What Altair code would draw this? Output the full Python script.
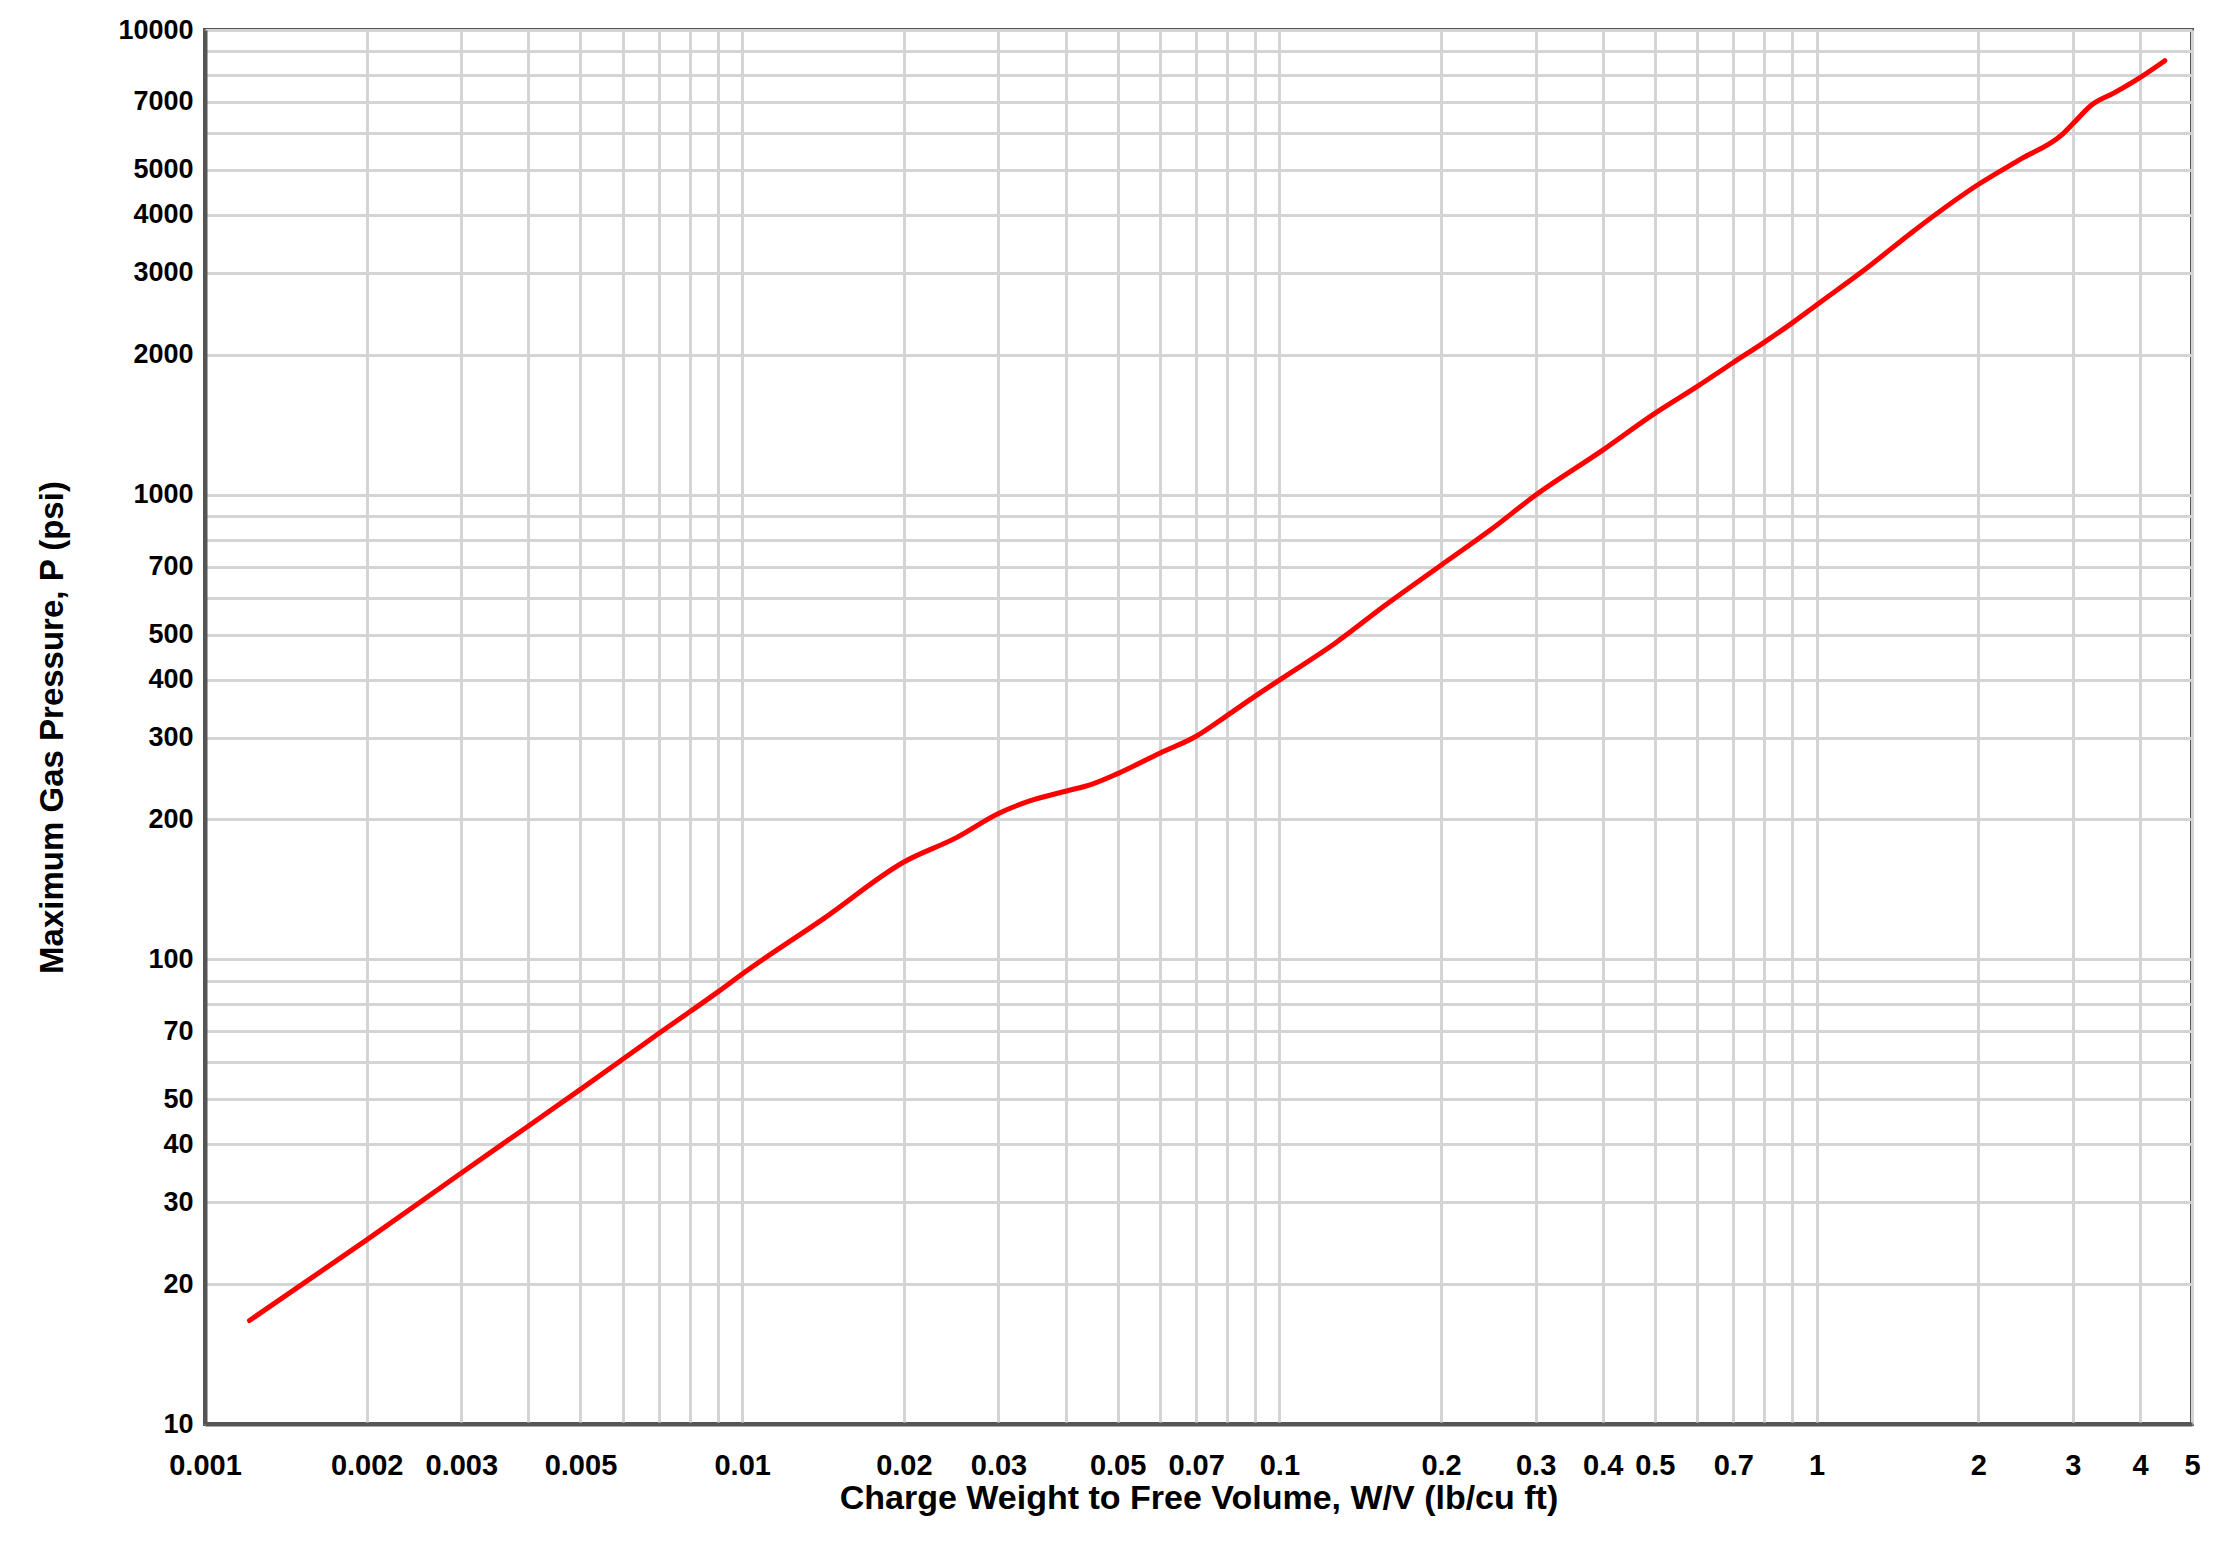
import altair as alt
import pandas as pd

# Curve (W/V in lb/cu ft, pressure in psi)
wv = [0.00121, 0.002, 0.003, 0.004, 0.005, 0.006, 0.007, 0.008, 0.009, 0.01,
      0.0142, 0.02, 0.0251, 0.03, 0.0342, 0.04, 0.0447, 0.05, 0.06, 0.07,
      0.08, 0.09, 0.1, 0.127, 0.159, 0.2, 0.247, 0.3, 0.4, 0.5,
      0.6, 0.7, 0.8, 0.9, 1.0, 1.225, 1.519, 2.0, 2.403, 2.852,
      3.0, 3.247, 3.587, 4.0, 4.45]
pressure = [16.7, 24.9, 34.7, 43.8, 52.5, 61.0, 69.3, 77.2, 85.0, 93.0,
            122.5, 162, 183, 206, 219, 230, 238, 251, 278, 302,
            335, 368, 399, 479, 583, 705, 839, 998, 1247, 1496,
            1710, 1925, 2130, 2340, 2560, 3040, 3700, 4650, 5280, 5929,
            6281, 6887, 7330, 7900, 8590]

# Grid positions and labelled ticks
x_grid = [0.001, 0.002, 0.003, 0.004, 0.005, 0.006, 0.007, 0.008, 0.009,
          0.01, 0.02, 0.03, 0.04, 0.05, 0.06, 0.07, 0.08, 0.09,
          0.1, 0.2, 0.3, 0.4, 0.5, 0.6, 0.7, 0.8, 0.9,
          1, 2, 3, 4, 5]
x_labels = [0.001, 0.002, 0.003, 0.005, 0.01, 0.02, 0.03, 0.05, 0.07, 0.1,
            0.2, 0.3, 0.4, 0.5, 0.7, 1, 2, 3, 4, 5]
y_grid = [10, 20, 30, 40, 50, 60, 70, 80, 90,
          100, 200, 300, 400, 500, 600, 700, 800, 900,
          1000, 2000, 3000, 4000, 5000, 6000, 7000, 8000, 9000, 10000]
y_labels = [10, 20, 30, 40, 50, 70, 100, 200, 300, 400, 500, 700,
            1000, 2000, 3000, 4000, 5000, 7000, 10000]

df = pd.DataFrame({"wv": wv, "p": pressure})

def label_expr(vals):
    arr = "[" + ",".join(repr(v) for v in vals) + "]"
    return f"indexof({arr}, datum.value) >= 0 ? toString(datum.value) : ''"

W, H = 1987, 1394
FONT = "Liberation Sans"

chart = alt.Chart(df).mark_line(color="#ff0000", strokeWidth=5, interpolate="monotone",
                                strokeJoin="round", strokeCap="round").encode(
    x=alt.X("wv:Q",
            scale=alt.Scale(type="log", domain=[0.001, 5], nice=False),
            axis=alt.Axis(values=x_grid, labelExpr=label_expr(x_labels),
                          title="Charge Weight to Free Volume, W/V (lb/cu ft)",
                          titleFont=FONT, titleFontSize=34, titleFontWeight="bold",
                          titleColor="#000000", titleX=W / 2, titleY=74,
                          titleBaseline="middle",
                          labelFont=FONT, labelFontSize=29, labelFontWeight="bold",
                          labelColor="#000000", labelPadding=27, labelFlush=False,
                          labelOverlap=False, ticks=False,
                          grid=True, gridColor="#d4d4d4", gridWidth=3,
                          domainColor="#555555", domainWidth=4)),
    y=alt.Y("p:Q",
            scale=alt.Scale(type="log", domain=[10, 10000], nice=False),
            axis=alt.Axis(values=y_grid, labelExpr=label_expr(y_labels),
                          title="Maximum Gas Pressure, P (psi)",
                          titleFont=FONT, titleFontSize=33, titleFontWeight="bold",
                          titleColor="#000000", titleX=-153, titleY=H / 2,
                          titleBaseline="middle", titleAngle=270,
                          labelFont=FONT, labelFontSize=27, labelFontWeight="bold",
                          labelColor="#000000", labelPadding=12, labelFlush=False,
                          labelOverlap=False, ticks=False,
                          grid=True, gridColor="#d4d4d4", gridWidth=3,
                          domainColor="#555555", domainWidth=4)),
).properties(
    width=W, height=H,
    autosize=alt.AutoSizeParams(type="none"),
    padding={"left": 197, "top": 22, "right": 27, "bottom": 113},
).configure_view(stroke="#555555", strokeWidth=4)

chart.save("out.html", embed_options={"renderer": "svg", "actions": False})
